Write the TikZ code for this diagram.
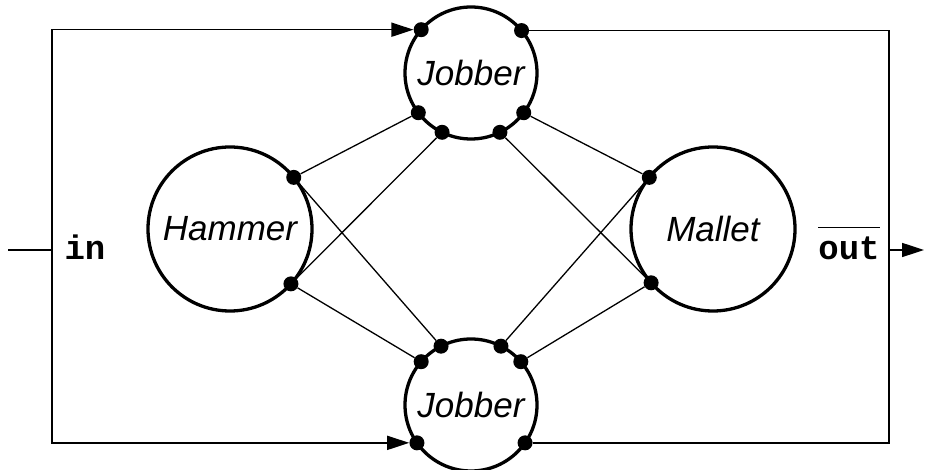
\documentclass[tikz,border=0pt]{standalone}
\usepackage{fontspec}
\setmainfont{Liberation Sans}
\setmonofont{Liberation Mono}
\usetikzlibrary{arrows.meta}
\newcommand\barred[1]{\vbox{\hrule height 1.5pt\kern 9pt\hbox{#1}}}
\tikzset{
  block/.style={circle,draw,line width=3.3pt,minimum size=#1,inner sep=0pt,outer sep=0pt,
    font=\fontsize{35}{40}\selectfont\itshape},
  dot/.style={circle,fill,inner sep=0pt,minimum size=15pt},
  wire/.style={line width=1.6pt},
  link/.style={line width=1.3pt},
  feed/.style={wire,-{Triangle[length=22pt,width=14pt]}},
  feedboth/.style={wire,{Triangle[length=22pt,width=14pt]}-{Triangle[length=22pt,width=14pt]}},
  port/.style={font=\fontsize{34}{40}\selectfont\ttfamily\bfseries,inner sep=0pt}
}
\begin{document}
\begin{tikzpicture}[x=1pt,y=1pt]
\useasboundingbox (0,0) rectangle (925,470);
% blocks
\node[block=164pt] (hammer) at (230,241) {Hammer};
\node[block=164pt] (mallet) at (713,241) {Mallet};
\node[block=132pt] (jtop) at (471,397) {Jobber};
\node[block=132pt] (jbot) at (471,65) {Jobber};
% ports on the blocks
\foreach \ang/\nm in {39/a,-42/b}
  \node[dot] (hammer-\nm) at (hammer.\ang) {};
\foreach \ang/\nm in {141/a,221/b}
  \node[dot] (mallet-\nm) at (mallet.\ang) {};
\foreach \ang/\nm in {139.3/w,40.7/e,217/p,244/q,296/r,323/s}
  \node[dot] (jtop-\nm) at (jtop.\ang) {};
\foreach \ang/\nm in {215/w,325/e,139/p,117/q,63/r,41/s}
  \node[dot] (jbot-\nm) at (jbot.\ang) {};
% cross links
\draw[link] (hammer-a) -- (jtop-p);
\draw[link] (hammer-a) -- (jbot-q);
\draw[link] (hammer-b) -- (jtop-q);
\draw[link] (hammer-b) -- (jbot-p);
\draw[link] (mallet-a) -- (jtop-s);
\draw[link] (mallet-a) -- (jbot-r);
\draw[link] (mallet-b) -- (jtop-r);
\draw[link] (mallet-b) -- (jbot-s);
% outer loop
\coordinate (src) at (8,220);
\coordinate (split) at (52,220);
\coordinate (join) at (889,220);
\coordinate (sink) at (924,220);
\draw[wire] (src) -- (split);
\draw[feedboth] (jtop-w) -| (split) |- (jbot-w);
\draw[wire] (jtop-e) -| (join) |- (jbot-e);
\draw[feed] (join) -- (sink);
% labels
\node[port,anchor=base] (inlbl) at (85,210) {in};
\node[port,anchor=base] (outlbl) at (849,210) {\barred{out}};
\end{tikzpicture}
\end{document}
